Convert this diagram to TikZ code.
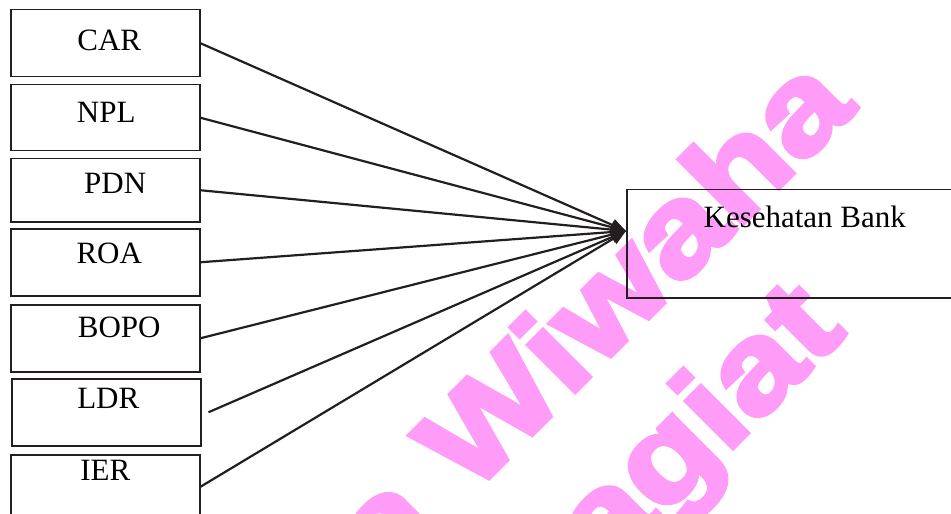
\documentclass[tikz,border=0pt]{standalone}
\usepackage{fontspec}
\setmainfont{Liberation Serif}
\newfontfamily\wmfont{Liberation Sans}[BoldFeatures={FakeBold=3.5}]
\usepackage{xcolor}
\usepackage{tikz}
\usetikzlibrary{
  arrows.meta,
  positioning,
  calc
}
\definecolor{kbLine}{HTML}{231F20}
\definecolor{kbMark}{HTML}{FF9CF8}
\tikzset{
  varbox/.style={
    draw=kbLine, line width=0.75pt, minimum width=94.5pt, inner sep=0pt,
    anchor=north west, font=\fontsize{15.5}{18}\selectfont
  },
  bankbox/.style={varbox, minimum width=178pt},
  effect/.style={-{Triangle[length=7.5pt, width=6pt]}, line width=1.1pt, kbLine},
  wmark/.style={
    text=kbMark, rotate=45, xscale=1.17, anchor=base east, inner sep=0pt,
    font=\wmfont\bfseries\fontsize{63}{75}\selectfont
  }
}

\begin{document}
\begin{tikzpicture}[x=0.5pt, y=-0.5pt]
  \useasboundingbox (0,0) rectangle (951,513);
  \clip (0,0) rectangle (951,513);
  \node[wmark] (wm1) at (858,109) {Widya Wiwaha};
  \node[wmark] (wm2) at (848,333) {Plagiat};
  \node[varbox, text height=20.5pt, text depth=13pt] (car) at (10,9) {\hspace{4pt}CAR};
  \node[varbox, text height=19pt, text depth=14pt] (npl) at (10,84) {\hspace{1pt}NPL};
  \node[varbox, text height=17.5pt, text depth=14pt] (pdn) at (10,158) {\hspace{10pt}PDN};
  \node[varbox, text height=17.5pt, text depth=16pt] (roa) at (10,228) {\hspace{4pt}ROA};
  \node[varbox, text height=16.5pt, text depth=17pt] (bopo) at (10,304) {\hspace{14pt}BOPO};
  \node[varbox, text height=15pt, text depth=18.5pt] (ldr) at (11,378) {\hspace{2pt}LDR};
  \node[varbox, text height=13pt, text depth=19pt] (ier) at (10,454) {IER\hspace{4pt}};
  \node[bankbox, text height=19pt, text depth=35pt] (bank) at (626,189) {Kesehatan Bank};
  \coordinate (tip) at ($(bank.north west)+(0,42)$);
  \foreach \v in {car,npl,pdn,roa,bopo,ier}
    \draw[effect] (\v.east) -- (tip);
  \draw[effect] ([xshift=3.5pt]ldr.east) -- (tip);
\end{tikzpicture}
\end{document}
